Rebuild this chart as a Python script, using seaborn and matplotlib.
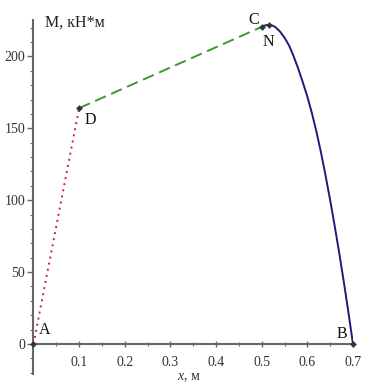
import matplotlib
matplotlib.use("Agg")
import matplotlib.pyplot as plt
import seaborn as sns
import pandas as pd

# Data
ad_x = [0.0, 0.1]
ad_y = [0.0, 164.0]
dc_x = [0.1, 0.5]
dc_y = [164.0, 220.5]
cb_x = [0.500, 0.505, 0.510, 0.515, 0.520, 0.525, 0.530, 0.540, 0.550, 0.560, 0.570,
        0.580, 0.590, 0.600, 0.610, 0.620, 0.630, 0.640, 0.650, 0.660, 0.670,
        0.680, 0.690, 0.700]
cb_y = [220.5, 221.3, 221.7, 221.9, 221.7, 221.2, 220.3, 217.3, 213.0, 207.5, 200.0,
        191.5, 182.0, 172.0, 160.5, 147.5, 133.0, 117.0, 100.0, 82.0, 63.0,
        43.0, 22.0, 0.0]
pt_names = ["A", "D", "C", "N", "B"]
pt_x = [0.0, 0.1, 0.5, 0.517, 0.7]
pt_y = [0.0, 164.0, 220.5, 221.9, 0.0]
x_ticks = [0.1, 0.2, 0.3, 0.4, 0.5, 0.6, 0.7]
y_ticks = [0, 50, 100, 150, 200]

sns.set_style("white")
plt.rcParams["font.family"] = ["Liberation Serif", "DejaVu Serif"]
plt.rcParams["mathtext.fontset"] = "custom"
plt.rcParams["mathtext.it"] = "Liberation Serif:italic"
plt.rcParams["mathtext.rm"] = "Liberation Serif"

fig = plt.figure(figsize=(3.75, 3.9), dpi=100)
ax = fig.add_axes([0.0893, 0.0405, 0.852, 0.9072])

sns.lineplot(x=ad_x, y=ad_y, ax=ax, color="#cc2233", linestyle=(0, (1, 2.2)),
             linewidth=1.4, sort=False, estimator=None)
sns.lineplot(x=dc_x, y=dc_y, ax=ax, color="#3a9a2a", linestyle=(0, (6, 3)),
             linewidth=1.4, sort=False, estimator=None)
sns.lineplot(x=cb_x, y=cb_y, ax=ax, color="#1c1c7a", linewidth=1.4,
             sort=False, estimator=None)
pts = pd.DataFrame({"x": pt_x, "y": pt_y})
sns.scatterplot(data=pts, x="x", y="y", ax=ax, color="#333333", s=10,
                marker="D", zorder=5, clip_on=False, edgecolor="#333333")

offsets = {"A": (0.012, 10), "D": (0.012, -8), "C": (-0.03, 5), "N": (-0.016, -12), "B": (-0.035, 7)}
for n, xx, yy in zip(pt_names, pt_x, pt_y):
    dx, dy = offsets[n]
    ax.text(xx + dx, yy + dy, n, fontsize=11.5, color="#111111", ha="left", va="center")

ax.set_xlim(0, 0.7)
ax.set_ylim(-21, 225)
ax.spines["left"].set_position(("data", 0))
ax.spines["bottom"].set_position(("data", 0))
ax.spines["top"].set_visible(False)
ax.spines["right"].set_visible(False)
for s in ("left", "bottom"):
    ax.spines[s].set_color("#666666")
    ax.spines[s].set_linewidth(1.5)

ax.set_xticks(x_ticks)
ax.set_xticklabels([str(t) for t in x_ticks])
ax.set_yticks(y_ticks)
ax.set_yticklabels([str(t) for t in y_ticks])
ax.set_xticks([0.05, 0.15, 0.25, 0.35, 0.45, 0.55, 0.65], minor=True)
ax.set_yticks([v for v in range(-20, 225, 10) if v % 50 != 0], minor=True)
ax.tick_params(axis="x", which="major", direction="inout", length=5, width=1, color="#666666",
               labelsize=10, labelcolor="#333333", pad=6, bottom=True)
ax.tick_params(axis="x", which="minor", direction="inout", length=3, width=0.8, color="#666666", bottom=True)
ax.tick_params(axis="y", which="major", direction="out", length=4, width=1, color="#666666",
               labelsize=10, labelcolor="#333333", pad=2, left=True)
ax.tick_params(axis="y", which="minor", direction="out", length=2.5, width=0.8, color="#666666", left=True)

ax.set_xlabel("")
ax.set_ylabel("")
fig.text(0.12, 0.943, "M, кН*м", fontsize=11.5, color="#222222", ha="left", va="center")
fig.text(0.505, 0.033, "$\\mathit{x}$, м", fontsize=10, color="#333333", ha="center", va="center")

fig.savefig("out.png", dpi=100, facecolor="white")
